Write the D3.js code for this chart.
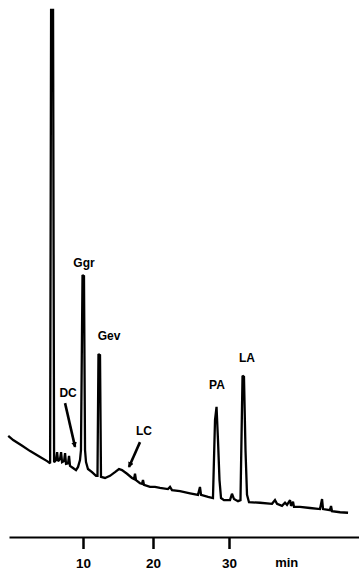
<!DOCTYPE html>
<html>
<head>
<meta charset="utf-8">
<script src="https://cdn.jsdelivr.net/npm/d3@7"></script>
<style>
  body { margin: 0; background: #fff; }
  text { font-family: "Liberation Sans", Arial, sans-serif; font-weight: bold; fill: #000; }
</style>
</head>
<body>
<div id="wrapper"></div>
<script>
// retention time (min) and detector signal (% of solvent peak)
const traceTime = [-0.71, 0.0, 1.29, 2.43, 3.86, 4.86, 5.29, 5.43, 5.71, 5.86,
    6.14, 6.29, 6.43, 6.71, 6.86, 7.0, 7.29, 7.43, 7.57, 7.86,
    8.0, 8.14, 8.57, 9.0, 9.29, 9.57, 9.71, 9.93, 10.14, 10.29,
    10.43, 10.71, 11.29, 11.86, 12.07, 12.21, 12.43, 12.57, 13.14, 13.86,
    14.57, 15.14, 15.57, 16.29, 17.0, 17.29, 17.43, 17.57, 18.14, 18.43,
    18.57, 18.71, 19.57, 20.26, 20.92, 21.97, 22.24, 22.5, 23.55, 24.87,
    25.92, 26.18, 26.32, 27.24, 27.89, 28.16, 28.36, 28.55, 28.75, 28.95,
    29.34, 30.13, 30.39, 30.66, 31.18, 31.51, 31.78, 31.97, 32.17, 32.37,
    32.63, 34.08, 35.66, 36.05, 36.32, 36.97, 37.37, 37.63, 38.03, 38.16,
    38.42, 38.55, 39.34, 40.66, 41.97, 42.24, 42.37, 43.29, 43.42, 43.55,
    44.61, 45.66];
const traceSignal = [19.2, 18.4, 17.3, 16.3, 15.2, 14.4, 14.0, 100, 100, 14.2,
    14.6, 16.1, 14.4, 14.8, 16.1, 14.2, 14.4, 15.9, 13.9, 14.0,
    15.4, 13.5, 13.1, 12.7, 13.3, 14.6, 16.5, 49.7, 49.5, 16.5,
    14.2, 12.9, 12.3, 11.6, 11.6, 34.7, 34.5, 11.4, 11.2, 11.6,
    12.3, 12.9, 12.7, 12.0, 11.2, 11.0, 12.0, 10.8, 10.2, 10.1,
    10.8, 9.9, 9.5, 9.5, 9.3, 9.1, 9.5, 8.9, 8.7, 8.3,
    8.0, 9.5, 8.0, 7.6, 7.4, 22.2, 24.7, 18.4, 10.8, 7.4,
    7.0, 7.0, 8.2, 7.2, 6.8, 7.0, 30.6, 30.4, 16.5, 8.0,
    6.6, 6.5, 6.3, 7.0, 6.3, 5.9, 6.5, 6.1, 7.0, 5.9,
    6.7, 5.7, 5.7, 5.5, 5.3, 7.2, 5.3, 5.1, 5.9, 4.9,
    4.7, 4.6];

const tickValues = [10, 20, 30];
const axisUnit = "min";

// peak labels: name, label position, optional arrow (from -> to)
const peakNames = ["DC", "Ggr", "Gev", "LC", "PA", "LA"];
const labelTime = [7.86, 10.14, 13.71, 18.71, 28.42, 32.37];
const labelSignal = [26.6, 51.2, 37.4, 19.4, 28.1, 33.2];
const arrowFrom = [[7.43, 25.4], null, null, [18.14, 18.0], null, null];
const arrowTo = [[8.86, 17.1], null, null, [16.57, 13.3], null, null];

const dimension = { width: 359, height: 572 };
const axisY = 537;

const svg = d3.select("#wrapper").append("svg")
    .attr("width", dimension.width)
    .attr("height", dimension.height);

// pencil-like arrow tip
svg.append("defs").append("marker")
    .attr("id", "tip")
    .attr("viewBox", "0 -3 6 6")
    .attr("refX", 5)
    .attr("refY", 0)
    .attr("markerWidth", 2.2)
    .attr("markerHeight", 2.2)
    .attr("orient", "auto")
    .append("path")
    .attr("d", "M0,-3L6,0L0,3Z")
    .attr("fill", "#000");

// the scanned time axis is slightly uneven, so use a piecewise scale
const xScaler = d3.scaleLinear()
    .domain([-0.6, 10, 20, 30, 47.1])
    .range([9, 83, 153, 229, 359]);

const yScaler = d3.scaleLinear()
    .domain([0, 100])
    .range([axisY, 10]);

const points = traceTime.map((t, i) => [t, traceSignal[i]]);

const lineGenerator = d3.line()
    .x(d => xScaler(d[0]))
    .y(d => yScaler(d[1]));

svg.append("path")
    .attr("d", lineGenerator(points))
    .attr("fill", "none")
    .attr("stroke", "#000")
    .attr("stroke-width", 2.3)
    .attr("stroke-linejoin", "miter")
    .attr("stroke-miterlimit", 2);

// peak labels and arrows
peakNames.forEach((name, i) => {
    svg.append("text")
        .attr("x", xScaler(labelTime[i]))
        .attr("y", yScaler(labelSignal[i]))
        .attr("text-anchor", "middle")
        .style("font-size", "12px")
        .text(name);
    if (arrowFrom[i]) {
        svg.append("line")
            .attr("x1", xScaler(arrowFrom[i][0]))
            .attr("y1", yScaler(arrowFrom[i][1]))
            .attr("x2", xScaler(arrowTo[i][0]))
            .attr("y2", yScaler(arrowTo[i][1]))
            .attr("stroke", "#000")
            .attr("stroke-width", 2.6)
            .attr("marker-end", "url(#tip)");
    }
});

// time axis
const xAxis = d3.axisBottom(xScaler)
    .tickValues(tickValues)
    .tickSize(12)
    .tickSizeOuter(0)
    .tickPadding(9);

const axisG = svg.append("g")
    .attr("transform", `translate(0, ${axisY})`)
    .call(xAxis);
axisG.select(".domain").attr("stroke-width", 2);
axisG.selectAll(".tick line").attr("stroke-width", 2.5);
axisG.selectAll(".tick text")
    .style("font-size", "13.5px")
    .style("font-family", "'Liberation Sans', Arial, sans-serif")
    .style("font-weight", "bold");

axisG.append("text")
    .attr("x", xScaler(37.6))
    .attr("y", 21)
    .attr("dy", "0.71em")
    .attr("text-anchor", "middle")
    .style("font-size", "13px")
    .text(axisUnit);
</script>
</body>
</html>
